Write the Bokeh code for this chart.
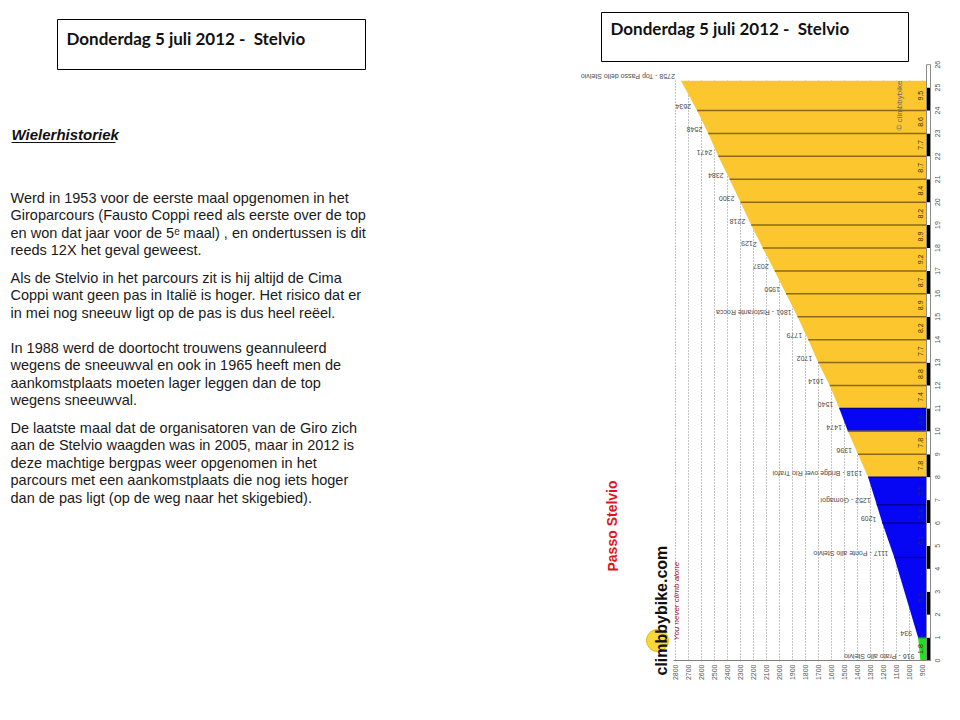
from bokeh.plotting import figure
from bokeh.models import Range1d
from bokeh.embed import file_html
from bokeh.resources import INLINE
from bokeh.core.properties import value

# ------------------------------------------------------------------ data
KM = [0, 1, 4.5, 6, 6.8, 8, 9, 10, 11, 12, 13, 14, 15, 16, 17, 18, 19, 20, 21, 22, 23, 24, 25.3]
ALT = [916, 934, 1117, 1209, 1252, 1318, 1396, 1474, 1540, 1614, 1702, 1779, 1861,
       1950, 2037, 2129, 2218, 2300, 2384, 2471, 2548, 2634, 2758]
NAMES = ["Prato allo Stelvio", "", "Ponte allo Stelvio", "", "Gomagoi", "Bridge over Rio Trafoi",
         "", "", "", "", "", "", "Ristorante Rocca", "", "", "", "", "", "", "", "", "",
         "Top Passo dello Stelvio"]
GRADES = [1.8, 5.2, 6.1, 5.4, 5.5, 7.8, 7.8, 6.6, 7.4, 8.8, 7.7, 8.2, 8.9, 8.7, 9.2,
          8.9, 8.2, 8.4, 8.7, 7.7, 8.6, 9.5]
ALT_TICKS = [900, 1000, 1100, 1200, 1300, 1400, 1500, 1600, 1700, 1800, 1900, 2000,
             2100, 2200, 2300, 2400, 2500, 2600, 2700, 2800]
KM_TICKS = [0, 1, 2, 3, 4, 5, 6, 7, 8, 9, 10, 11, 12, 13, 14, 15, 16, 17, 18, 19, 20,
            21, 22, 23, 24, 25, 26]

TITLE = "Donderdag 5 juli 2012 -  Stelvio"
HEADING = "Wielerhistoriek"
BODY = [
    "Werd in 1953 voor de eerste maal opgenomen in het",
    "Giroparcours (Fausto Coppi reed als eerste over de top",
    "en won dat jaar voor de 5\u1d49 maal) , en ondertussen is dit",
    "reeds 12X het geval geweest.",
    "Als de Stelvio in het parcours zit is hij altijd de Cima",
    "Coppi want geen pas in Itali\u00eb is hoger. Het risico dat er",
    "in mei nog sneeuw ligt op de pas is dus heel re\u00ebel.",
    " In 1988 werd de doortocht trouwens geannuleerd",
    "wegens de sneeuwval en ook in 1965 heeft men de",
    "aankomstplaats moeten lager leggen dan de top",
    "wegens sneeuwval.",
    "De laatste maal dat de organisatoren van de Giro zich",
    "aan de Stelvio waagden was in 2005, maar in 2012 is",
    "deze machtige bergpas weer opgenomen in het",
    "parcours met een aankomstplaats die nog iets hoger",
    "dan de pas ligt (op de weg naar het skigebied).",
]
BODY_Y = [197, 214.5, 232, 249.5, 277, 294.5, 312, 347, 364.5, 382, 399.5,
          427, 444.5, 462, 479.5, 497]

# ------------------------------------------------------------------ layout
W, H = 952, 712
OFF = 0                      # page offset of the canvas
X900, X2800 = 922, 675       # page x of altitude 900 / 2800
Y0, Y24 = 660, 110           # page y of km 0 / km 24
ALT_BASE = 869               # altitude at right edge of filled profile

apx = (2800 - 900) / (X900 - X2800)
kpx = 24 / (Y0 - Y24)
alt_range = Range1d(900 + (X900 - OFF) * apx, 900 - (OFF + W - X900) * apx)
km_range = Range1d((Y0 - (OFF + H)) * kpx, (Y0 - OFF) * kpx)

p = figure(width=W, height=H, output_backend="svg", toolbar_location=None,
           x_axis_type=None, y_axis_type=None, min_border=0, title=None,
           x_range=Range1d(OFF, OFF + W), y_range=Range1d(OFF + H, OFF))
p.outline_line_color = None
p.background_fill_color = "white"
p.border_fill_color = "white"
p.extra_x_ranges = {"alt": alt_range}
p.extra_y_ranges = {"km": km_range}

SANS = value("Liberation Sans")
AK = dict(x_range_name="alt", y_range_name="km")

# ---------------- title boxes
p.quad(left=[57, 601], right=[365, 908], top=[19, 12], bottom=[69, 61],
       fill_color=None, line_color="black", line_width=1)
p.text(x=[66, 610], y=[38, 28], text=[TITLE.replace("  ", " \u00a0"), TITLE.replace("  ", " \u00a0")],
       text_font=value("Lato"), text_font_style="bold", text_font_size="17px",
       text_color="#111111", text_baseline="middle", text_align="left")

# ---------------- left text
p.text(x=[11], y=[134], text=[HEADING], text_font=SANS, text_font_style="bold italic",
       text_font_size="15px", text_color="#111111", text_baseline="middle")
p.segment(x0=[11], x1=[115], y0=[142], y1=[142], line_color="#111111", line_width=1)
p.text(x=[10] * len(BODY), y=BODY_Y, text=BODY, text_font=SANS, text_font_size="14.5px",
       text_color="#1a1a1a", text_baseline="middle", text_align="left")

# ---------------- climb profile
top_km = KM[-1]
p.segment(x0=ALT_TICKS, x1=ALT_TICKS, y0=[0] * len(ALT_TICKS), y1=[top_km] * len(ALT_TICKS),
          line_color="#8a8a8a", line_dash="1 2", line_width=1, **AK)


def seg_color(g):
    if g < 3:
        return "#20e020"
    if g < 7:
        return "#0606f4"
    return "#fcc62e"


def seg_line(g):
    if g < 3:
        return "#108010"
    if g < 7:
        return "#00009a"
    return "#8a6a1a"


xs, ys, cols = [], [], []
for i, g in enumerate(GRADES):
    xs.append([ALT[i], ALT[i + 1], ALT_BASE, ALT_BASE])
    ys.append([KM[i], KM[i + 1], KM[i + 1], KM[i]])
    cols.append(seg_color(g))
p.patches(xs=xs, ys=ys, fill_color=cols, line_color=None, **AK)

# km boundary lines
p.segment(x0=ALT[1:-1], x1=[ALT_BASE] * (len(ALT) - 2), y0=KM[1:-1], y1=KM[1:-1],
          line_color=[seg_line(g) for g in GRADES[:-1]], line_width=1.5, **AK)

# gradient labels
p.text(x=[ALT_BASE + 47] * len(GRADES), y=[(KM[i] + KM[i + 1]) / 2 for i in range(len(GRADES))],
       text=["%.1f" % g for g in GRADES], angle=1.5708, text_font=SANS, text_font_size="7px",
       text_color=["#10307a" if 3 <= g < 7 else "#3a2a00" for g in GRADES],
       text_align="center", text_baseline="middle", **AK)

# point labels (upside down)
labels = [("%d - %s" % (a, n)) if n else "%d" % a for a, n in zip(ALT, NAMES)]
p.text(x=ALT, y=KM, text=labels, angle=3.14159, text_font=SANS, text_font_size="7px",
       text_color="#4a4a4a", text_align="left", text_baseline="middle",
       x_offset=-6, y_offset=-4, **AK)

# altitude axis
p.segment(x0=[ALT_TICKS[-1] + 15], x1=[ALT_BASE], y0=[0], y1=[0], line_color="#808080",
          line_width=1, **AK)
p.text(x=ALT_TICKS, y=[0] * len(ALT_TICKS), text=[str(a) for a in ALT_TICKS], angle=1.5708,
       text_font=SANS, text_font_size="7px", text_color="#555555", text_align="right",
       text_baseline="middle", y_offset=4, **AK)

# km strip + axis
p.quad(left=[926] * 26, right=[930] * 26, bottom=KM_TICKS[:-1], top=KM_TICKS[1:],
       fill_color=["black" if k % 2 == 0 and k < 25 else "white" for k in KM_TICKS[:-1]],
       line_color=None, y_range_name="km")
p.quad(left=[926], right=[930], bottom=[0], top=[KM_TICKS[-1]], fill_color=None,
       line_color="#8a8a8a", line_width=1, y_range_name="km")
p.text(x=[937] * len(KM_TICKS), y=KM_TICKS, text=[str(k) for k in KM_TICKS], angle=1.5708,
       text_font=SANS, text_font_size="7px", text_color="#555555", text_align="center",
       text_baseline="middle", y_range_name="km")

# watermark & branding
p.text(x=[899], y=[130], text=["\u00a9 climbbybike"], angle=1.5708, text_font=SANS,
       text_font_size="8px", text_color="#6a6a6a", text_align="left", text_baseline="middle")
p.scatter(x=[657], y=[640], size=22, marker="circle", fill_color="#f6d21c", fill_alpha=0.85,
          line_color="#e8b800")
p.text(x=[661], y=[675], text=["climbbybike.com"], angle=1.5708, text_font=SANS,
       text_font_style="bold", text_font_size="16px", text_color="#111111",
       text_align="left", text_baseline="middle")
p.text(x=[676], y=[640], text=["You never climb alone"], angle=1.5708, text_font=SANS,
       text_font_style="italic", text_font_size="8px", text_color="#a02040",
       text_align="left", text_baseline="middle")
p.text(x=[612], y=[571], text=["Passo Stelvio"], angle=1.5708, text_font=SANS,
       text_font_style="bold", text_font_size="14px", text_color="#e0141e",
       text_align="left", text_baseline="middle")

open("out.html", "w").write(file_html(p, INLINE))
